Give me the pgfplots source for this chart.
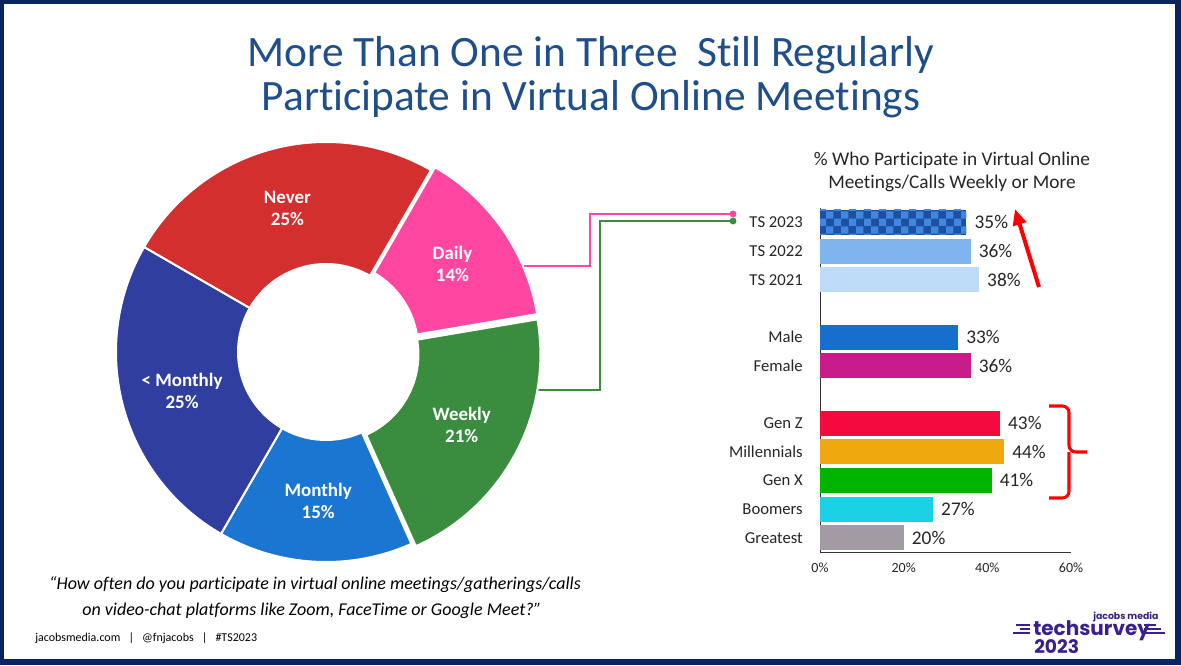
\documentclass[border=0pt]{standalone}
\usepackage{pgfplots}
\pgfplotsset{compat=1.18}
\usepackage{pgfplotstable}
\usepackage{fontspec}
\setmainfont{Carlito}[Ligatures=NoCommon]
\newfontfamily\logofont{Poppins}
\usetikzlibrary{patterns,arrows.meta}

\definecolor{titleblue}{RGB}{31,78,140}
\definecolor{navy}{RGB}{10,36,96}
\definecolor{textdark}{RGB}{38,38,38}
\definecolor{cDaily}{RGB}{255,71,161}
\definecolor{cWeekly}{RGB}{58,140,63}
\definecolor{cMonthly}{RGB}{27,118,210}
\definecolor{cLess}{RGB}{48,63,159}
\definecolor{cNever}{RGB}{211,47,47}
\definecolor{tsbase}{RGB}{30,80,160}
\definecolor{tslight}{RGB}{64,135,225}
\definecolor{ts22}{RGB}{127,181,238}
\definecolor{ts21}{RGB}{189,218,246}
\definecolor{cMale}{RGB}{24,110,205}
\definecolor{cFemale}{RGB}{199,28,138}
\definecolor{cGenZ}{RGB}{244,11,61}
\definecolor{cMill}{RGB}{240,168,15}
\definecolor{cGenX}{RGB}{0,180,0}
\definecolor{cBoom}{RGB}{28,208,229}
\definecolor{cGreat}{RGB}{163,155,163}
\definecolor{logopurple}{RGB}{58,32,140}

\pgfplotstableread{
name value explode col
Daily 14 5 cDaily
Weekly 21 5 cWeekly
Monthly 15 0 cMonthly
{< Monthly} 25 0 cLess
Never 25 0 cNever
}\donuttable

\begin{document}
\begin{tikzpicture}[x=0.75pt,y=0.75pt]
\useasboundingbox (0,0) rectangle (1181,665);
\fill[white] (0,0) rectangle (1181,665);

% Title
\node[anchor=base, font=\fontsize{32.5}{33}\selectfont, text=titleblue, inner sep=0pt] at (591,598) {More Than One in Three\ \ Still Regularly};
\node[anchor=base, font=\fontsize{32.5}{33}\selectfont, text=titleblue, inner sep=0pt] at (591,554) {Participate in Virtual Online Meetings};

% connector lines
\draw[cDaily, line width=1.5pt] (515,399) -- (590,399) -- (590,451) -- (732,451);
\fill[cDaily] (733,451) circle[radius=2.6pt];
\draw[cWeekly, line width=1.5pt] (530,275) -- (600,275) -- (600,444) -- (732,444);
\fill[cWeekly] (733,444) circle[radius=2.6pt];

% Donut
\begin{axis}[at={(244.5pt,234.75pt)}, anchor=center, width=300pt, height=300pt, scale only axis,
  hide axis, xmin=-1, xmax=1, ymin=-1, ymax=1, clip=false]
\addplot[draw=none] coordinates {(0,0)};
\pgfplotsextra{
  \gdef\cum{0}
  \foreach \i in {0,...,4}{
    \pgfplotstablegetelem{\i}{value}\of\donuttable \edef\val{\pgfplotsretval}
    \pgfplotstablegetelem{\i}{explode}\of\donuttable \edef\ex{\pgfplotsretval}
    \pgfplotstablegetelem{\i}{col}\of\donuttable \edef\cc{\pgfplotsretval}
    \pgfplotstablegetelem{\i}{name}\of\donuttable \edef\nm{\pgfplotsretval}
    \pgfmathsetmacro\sa{60-3.6*\cum}
    \pgfmathsetmacro\ea{60-3.6*(\cum+\val)}
    \pgfmathsetmacro\ma{(\sa+\ea)/2}
    \begin{scope}[shift={(axis cs:0,0)}, shift={(\ma:\ex*0.75pt)}]
      \fill[\cc, draw=white, line width=1.5pt] (\sa:157.5pt) arc[start angle=\sa, end angle=\ea, radius=157.5pt]
         -- (\ea:66pt) arc[start angle=\ea, end angle=\sa, radius=66pt] -- cycle;
      \node[text=white, font=\bfseries\fontsize{14.2}{16.5}\selectfont, align=center] at (\ma:111.75pt) {\nm\\\val\%};
    \end{scope}
    \pgfmathsetmacro\newcum{\cum+\val}
    \xdef\cum{\newcum}
  }
}
\end{axis}

% Bar chart subtitle
\node[font=\fontsize{14.5}{17.5}\selectfont, text=textdark, align=center, inner sep=0pt] at (952,493) {\% Who Participate in Virtual Online\\Meetings/Calls Weekly or More};

% Bar chart
\begin{axis}[at={(615pt,84.75pt)}, anchor=south west, scale only axis,
  width=188.25pt, height=258pt,
  xbar, bar width=18.75pt, bar shift=0pt,
  xmin=0, xmax=60, ymin=-11.5, ymax=0.5,
  axis x line*=bottom, axis y line*=left,
  axis line style={-, draw=black!80},
  every outer x axis line/.append style={-},
  every outer y axis line/.append style={-},
  xtick={0,20,40,60}, xticklabels={0\%,20\%,40\%,60\%},
  ytick={0,-1,-2,-4,-5,-7,-8,-9,-10,-11},
  yticklabels={TS 2023,TS 2022,TS 2021,Male,Female,Gen Z,Millennials,Gen X,Boomers,Greatest},
  major tick length=0pt,
  tick label style={text=textdark},
  xticklabel style={font=\fontsize{10.5}{12}\selectfont, yshift=-5pt},
  yticklabel style={font=\fontsize{12.5}{14}\selectfont, inner sep=0pt, xshift=-12.75pt},
  point meta=x,
  nodes near coords={\pgfmathprintnumber{\pgfplotspointmeta}\%},
  nodes near coords style={font=\fontsize{14.5}{16}\selectfont, text=textdark, anchor=west, inner sep=0pt, xshift=6pt},
  /pgf/number format/assume math mode=true,
  clip=false]
\addplot[draw=none, fill=tsbase, postaction={pattern=checkerboard, pattern color=tslight}] coordinates {(35,0)};
\addplot[draw=none, fill=ts22] coordinates {(36,-1)};
\addplot[draw=none, fill=ts21] coordinates {(38,-2)};
\addplot[draw=none, fill=cMale] coordinates {(33,-4)};
\addplot[draw=none, fill=cFemale] coordinates {(36,-5)};
\addplot[draw=none, fill=cGenZ] coordinates {(43,-7)};
\addplot[draw=none, fill=cMill] coordinates {(44,-8)};
\addplot[draw=none, fill=cGenX] coordinates {(41,-9)};
\addplot[draw=none, fill=cBoom] coordinates {(27,-10)};
\addplot[draw=none, fill=cGreat] coordinates {(20,-11)};
\end{axis}

% red arrow
\draw[red, line width=3pt, -{Triangle[length=12pt, width=10pt]}] (1039,378) -- (1015,456);
% red brace
\draw[red, line width=2.3pt, rounded corners=5pt] (1049,259) -- (1069,259) -- (1069,213) -- (1087,213);
\draw[red, line width=2.3pt, rounded corners=5pt] (1049,167) -- (1069,167) -- (1069,213);

% footnote
\node[anchor=base, font=\itshape\fontsize{13.5}{16}\selectfont, inner sep=0pt] at (315,76) {“How often do you participate in virtual online meetings/gatherings/calls};
\node[anchor=base, font=\itshape\fontsize{13.5}{16}\selectfont, inner sep=0pt] at (312,50) {on video-chat platforms like Zoom, FaceTime or Google Meet?”};
\node[anchor=base west, font=\fontsize{9}{11}\selectfont, inner sep=0pt] at (35,24) {jacobsmedia.com\ \ \ |\ \ \ @fnjacobs\ \ \ |\ \ \ \#TS2023};

% logo
\node[anchor=base west, font=\logofont\fontsize{7}{8}\selectfont\bfseries, text=logopurple, inner sep=0pt] at (1093,46) {jacobs media};
\node[anchor=base west, font=\logofont\fontsize{15}{15}\selectfont\bfseries, text=logopurple, inner sep=0pt] at (1033,30) {techsurvey};
\node[anchor=base west, font=\logofont\fontsize{14}{14}\selectfont\bfseries, text=logopurple, inner sep=0pt] at (1034,12) {2023};
\draw[logopurple, line width=1.3pt] (1016,40) -- (1030,40) (1020,36) -- (1030,36) (1013,32) -- (1030,32);
\draw[logopurple, line width=1.3pt] (1144,40) -- (1156,40) (1144,36) -- (1161,36) (1144,32) -- (1165,32);

% frame
\draw[navy, line width=3pt] (2,2) rectangle (1179,663);
\draw[navy, line width=4pt] (1178,0) -- (1178,665);
\draw[navy, line width=4pt] (0,3) -- (1181,3);
\end{tikzpicture}
\end{document}
